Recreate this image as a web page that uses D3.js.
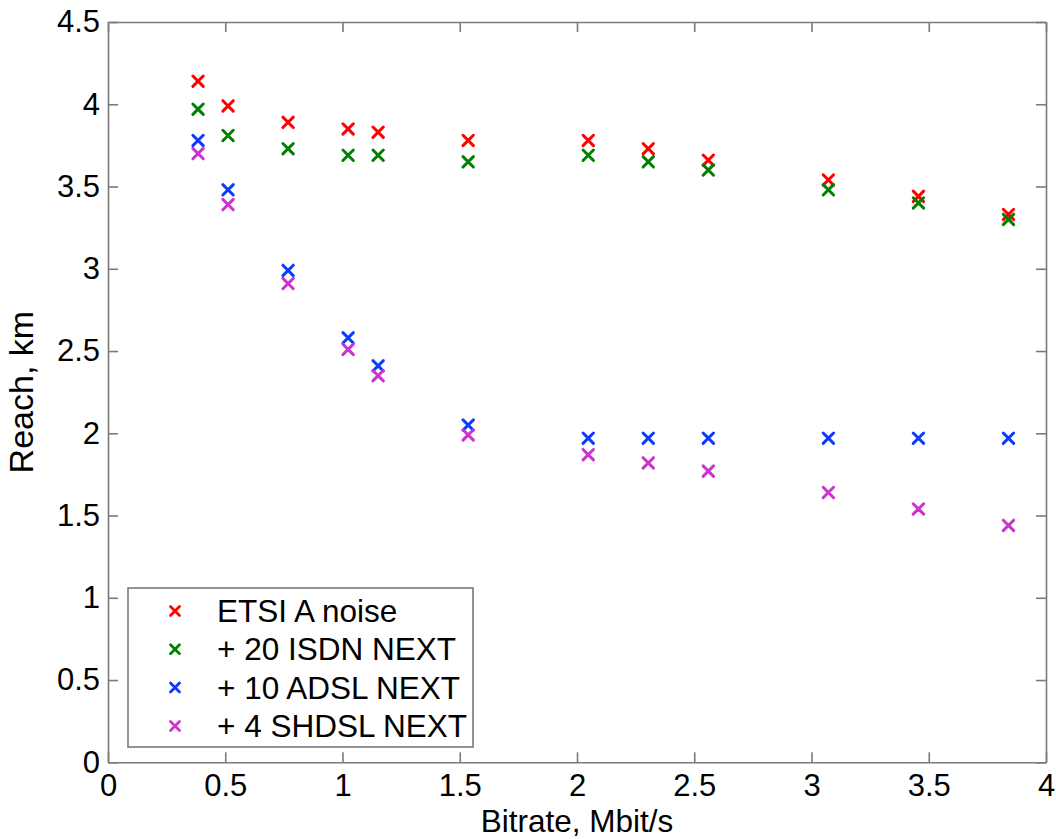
<!DOCTYPE html>
<html>
<head>
<meta charset="utf-8">
<script src="https://cdn.jsdelivr.net/npm/d3@7"></script>
<style>
  html, body { margin: 0; padding: 0; background: #fff; }
  svg { display: block; }
  text { font-family: "Liberation Sans", Arial, Helvetica, sans-serif; fill: #000; }
</style>
</head>
<body>
<svg id="chart" width="1056" height="839"></svg>
<script>
// ---- data ----
const bitrates = [0.384, 0.512, 0.768, 1.024, 1.152, 1.536, 2.048, 2.304, 2.56, 3.072, 3.456, 3.84];
const etsiA    = [4.14, 3.99, 3.89, 3.85, 3.83, 3.78, 3.78, 3.73, 3.66, 3.54, 3.44, 3.33];
const isdn20   = [3.97, 3.81, 3.73, 3.69, 3.69, 3.65, 3.69, 3.65, 3.60, 3.48, 3.40, 3.30];
const adsl10   = [3.78, 3.48, 2.99, 2.58, 2.41, 2.05, 1.97, 1.97, 1.97, 1.97, 1.97, 1.97];
const shdsl4   = [3.70, 3.39, 2.91, 2.51, 2.35, 1.99, 1.87, 1.82, 1.77, 1.64, 1.54, 1.44];
const seriesNames  = ["ETSI A noise", "+ 20 ISDN NEXT", "+ 10 ADSL NEXT", "+ 4 SHDSL NEXT"];
const seriesColors = ["#ff0000", "#008000", "#0a3cff", "#cc33cc"];
const xTicks = [0, 0.5, 1, 1.5, 2, 2.5, 3, 3.5, 4];
const xTickLabels = ["0", "0.5", "1", "1.5", "2", "2.5", "3", "3.5", "4"];
const yTicks = [0, 0.5, 1, 1.5, 2, 2.5, 3, 3.5, 4, 4.5];
const yTickLabels = ["0", "0.5", "1", "1.5", "2", "2.5", "3", "3.5", "4", "4.5"];
const xLabel = "Bitrate, Mbit/s";
const yLabel = "Reach, km";

const seriesValues = [etsiA, isdn20, adsl10, shdsl4];

// ---- layout ----
const plotL = 108, plotR = 1046, plotT = 22, plotB = 762.3;
const axisColor = "#7a7a7a";

const svg = d3.select("#chart");
const x = d3.scaleLinear().domain([0, 4]).range([plotL, plotR]);
const y = d3.scaleLinear().domain([0, 4.5]).range([plotB, plotT]);

function styleAxis(g, labels) {
  g.select(".domain").attr("stroke", axisColor).attr("stroke-width", 1.6);
  g.selectAll(".tick line").attr("stroke", axisColor).attr("stroke-width", 1.6);
  g.selectAll(".tick text").attr("font-size", 31).attr("fill", "#000")
    .style("font-family", '"Liberation Sans", Arial, Helvetica, sans-serif');
  if (!labels) g.selectAll(".tick text").remove();
}

// bottom axis
svg.append("g").attr("transform", `translate(0,${plotB})`)
  .call(d3.axisBottom(x).tickValues(xTicks)
    .tickFormat((d, i) => xTickLabels[i]).tickSizeInner(-10).tickSizeOuter(0).tickPadding(12))
  .call(g => styleAxis(g, true));
// top axis
svg.append("g").attr("transform", `translate(0,${plotT})`)
  .call(d3.axisTop(x).tickValues(xTicks).tickSizeInner(-10).tickSizeOuter(0))
  .call(g => styleAxis(g, false));
// left axis
svg.append("g").attr("transform", `translate(${plotL},0)`)
  .call(d3.axisLeft(y).tickValues(yTicks)
    .tickFormat((d, i) => yTickLabels[i]).tickSizeInner(-10).tickSizeOuter(0).tickPadding(8))
  .call(g => styleAxis(g, true));
// right axis
svg.append("g").attr("transform", `translate(${plotR},0)`)
  .call(d3.axisRight(y).tickValues(yTicks).tickSizeInner(-10).tickSizeOuter(0))
  .call(g => styleAxis(g, false));

// axis labels
svg.append("text")
  .attr("x", (plotL + plotR) / 2).attr("y", 832)
  .attr("text-anchor", "middle").attr("font-size", 31.5)
  .text(xLabel);
svg.append("text")
  .attr("transform", `translate(33,${(plotT + plotB) / 2}) rotate(-90)`)
  .attr("text-anchor", "middle").attr("font-size", 34)
  .text(yLabel);

// markers
const crossPath = "M-5.2,-5.2L5.2,5.2M-5.2,5.2L5.2,-5.2";

seriesValues.forEach((vals, si) => {
  svg.append("g").selectAll("path")
    .data(bitrates.map((b, i) => ({ b, v: vals[i] })))
    .join("path")
    .attr("transform", d => `translate(${x(d.b)},${y(d.v)})`)
    .attr("d", crossPath)
    .attr("fill", "none")
    .attr("stroke", seriesColors[si])
    .attr("stroke-width", 3)
    .attr("stroke-linecap", "round");
});

// legend
const lg = svg.append("g");
lg.append("rect")
  .attr("x", 128).attr("y", 588).attr("width", 345).attr("height", 159)
  .attr("fill", "#fff").attr("stroke", axisColor).attr("stroke-width", 1.6);
seriesNames.forEach((name, i) => {
  const cy = 611 + i * 38.3;
  lg.append("path")
    .attr("transform", `translate(175,${cy})`)
    .attr("d", "M-4.5,-4.5L4.5,4.5M-4.5,4.5L4.5,-4.5")
    .attr("fill", "none").attr("stroke", seriesColors[i])
    .attr("stroke-width", 2.8).attr("stroke-linecap", "round");
  lg.append("text")
    .attr("x", 217).attr("y", cy + 11)
    .attr("font-size", 31.5)
    .text(name);
});
</script>
</body>
</html>
